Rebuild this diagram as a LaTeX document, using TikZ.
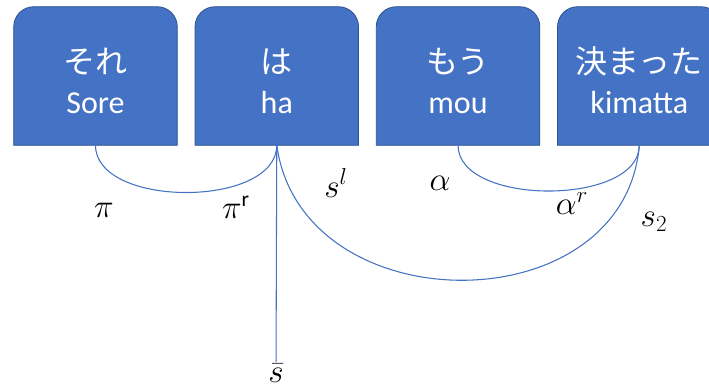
\documentclass[tikz,border=0pt]{standalone}
\usepackage{fontspec}
\setmainfont{Carlito}
\newfontfamily\jpfont{Noto Sans CJK JP}
\usetikzlibrary{positioning, backgrounds}
\definecolor{wordblue}{HTML}{4472C4}
\definecolor{wordedge}{HTML}{2F528F}

\begin{document}
\begin{tikzpicture}[
    x=0.75pt, y=-0.75pt,
    word/.style   = {text=white, align=center, inner sep=0pt,
                     minimum width=122.25pt, minimum height=103.5pt,
                     font=\fontsize{24}{30}\selectfont},
    wordbg/.style = {fill=wordblue, draw=wordedge, line width=0.6pt},
    link/.style   = {draw=wordblue, line width=0.8pt},
    type/.style   = {font=\fontsize{23}{26}\selectfont, inner sep=1pt},
    node distance = 13.3pt,
  ]
  \useasboundingbox (0,0) rectangle (709,387);

  \node[word] (sore) at (95.5,76) {{\jpfont\rule{0pt}{27pt}それ}\\Sore};
  \node[word, right=of sore] (ha) {{\jpfont\rule{0pt}{27pt}は}\\ha};
  \node[word, right=of ha] (mou) {{\jpfont\rule{0pt}{27pt}もう}\\mou};
  \node[word, right=of mou] (kimatta) {{\jpfont\rule{0pt}{27pt}決まった}\\kimatta};

  % word boxes, rounded on top only
  \begin{scope}[on background layer]
    \foreach \n in {sore, ha, mou, kimatta}
      \draw[wordbg] (\n.south west) [rounded corners=15pt] -- (\n.north west)
        -- (\n.north east) [sharp corners] -- (\n.south east) -- cycle;
  \end{scope}

  % types under the words
  \node[type] (pi) at (104,210) {$\pi$};
  \node[type] (pir) at (236,207) {$\pi^{\mathrm{r}}$};
  \node[type] (sl) at (336,183) {$s^{l}$};
  \node[type] (alpha) at (440,183) {$\alpha$};
  \node[type] (alphar) at (572,204) {$\alpha^{r}$};
  \node[type] (stwo) at (654,222) {$s_{2}$};
  \node[type] (sbar) at (276,373) {$\bar{s}$};

  % reductions
  \draw[link] (sore.south) .. controls +(0,63) and +(0,63) .. (ha.south);
  \draw[link] (mou.south) .. controls +(0,61) and +(0,61) .. (kimatta.south);
  \draw[link] (ha.south) .. controls +(25,180) and +(-15,180) .. (kimatta.south);
  \draw[link] (ha.south) -- (sbar);
\end{tikzpicture}
\end{document}
